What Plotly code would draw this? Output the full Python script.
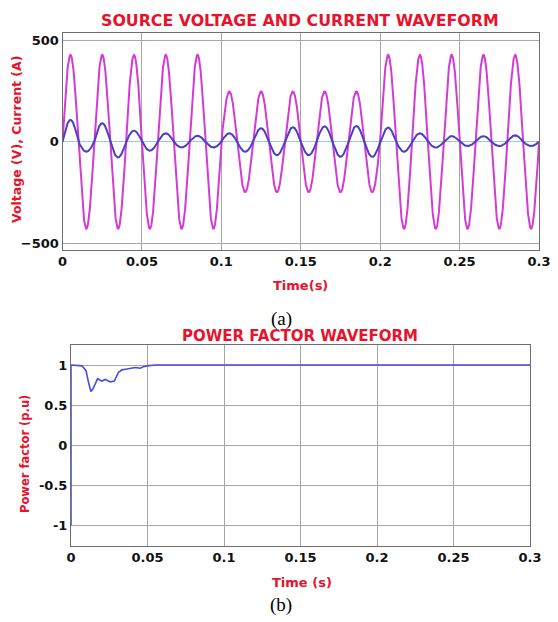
import numpy as np
import plotly.graph_objects as go

# ---------------- data ----------------
FREQ_HZ = 50.0
cycle_start = [0.00, 0.02, 0.04, 0.06, 0.08, 0.10, 0.12, 0.14,
               0.16, 0.18, 0.20, 0.22, 0.24, 0.26, 0.28]
volt_peak = [428, 428, 428, 428, 428, 248, 248, 248,
             248, 248, 428, 428, 428, 428, 428]
cur_pos_peak = [108, 92, 55, 42, 30, 42, 67, 72, 76, 78, 70, 42, 28, 28, 32]
cur_neg_peak = [49, 77, 44, 28, 28, 49, 66, 66, 74, 74, 49, 28, 21, 21, 21]

pf_time = [0.0, 0.0, 0.0072, 0.0098, 0.0115, 0.0130, 0.0143, 0.0174, 0.0202,
           0.0224, 0.0257, 0.0283, 0.0311, 0.0333, 0.0365, 0.0420, 0.0453,
           0.0474, 0.0496, 0.0550, 0.1000, 0.1500, 0.2000, 0.2500, 0.3000]
pf_value = [-1.0, 1.0, 0.99, 0.93, 0.78, 0.67, 0.70, 0.83, 0.80,
            0.82, 0.79, 0.80, 0.91, 0.94, 0.95, 0.97, 0.96,
            0.98, 0.99, 1.0, 1.0, 1.0, 1.0, 1.0, 1.0]

x_tick_vals = [0, 0.05, 0.1, 0.15, 0.2, 0.25, 0.3]
x_tick_text = ["0", "0.05", "0.1", "0.15", "0.2", "0.25", "0.3"]
vi_tick_vals = [-500, 0, 500]
pf_tick_vals = [-1, -0.5, 0, 0.5, 1]
pf_tick_text = ["-1", "-0.5", "0", "0.5", "1"]

# ---------------- waveform build ----------------
t = np.linspace(0, 0.3, 6001)
cs = np.array(cycle_start)
k = np.clip(np.searchsorted(cs, t, side="right") - 1, 0, len(cs) - 1)
s = np.sin(2 * np.pi * FREQ_HZ * t)
voltage = np.array(volt_peak)[k] * s
current = np.where(s >= 0, np.array(cur_pos_peak)[k] * s, np.array(cur_neg_peak)[k] * s)

# the page body has an 8px margin, so the figure is drawn at (8, 8)
OFF = 8
W, H = 558 - OFF, 622 - OFF
def px(x): return (x - OFF) / W
def py(y): return 1 - (y - OFF) / H

TICK_FONT = dict(family="DejaVu Sans", size=13, color="#111111", weight="bold")
RED = "#e8122c"
GRID = "#a6a6a6"
BOX = "#6e6e6e"

fig = go.Figure()
fig.add_trace(go.Scatter(x=t, y=voltage, mode="lines",
                         line=dict(color="#d43bd4", width=2), xaxis="x", yaxis="y",
                         showlegend=False, name="Voltage"))
fig.add_trace(go.Scatter(x=t, y=current, mode="lines",
                         line=dict(color="#4a3fc8", width=2), xaxis="x", yaxis="y",
                         showlegend=False, name="Current"))
fig.add_trace(go.Scatter(x=pf_time, y=pf_value, mode="lines",
                         line=dict(color="#4a4ae0", width=1.6), xaxis="x2", yaxis="y2",
                         showlegend=False, name="Power factor"))

common_x = dict(range=[0, 0.3], tickvals=x_tick_vals, ticktext=x_tick_text,
                showgrid=True, gridcolor=GRID, gridwidth=1, zeroline=False,
                showline=True, linecolor=BOX, linewidth=1, mirror=True,
                ticks="", tickfont=TICK_FONT, automargin=False)

fig.update_layout(
    width=W, height=H,
    margin=dict(l=0, r=0, t=0, b=0, pad=0),
    paper_bgcolor="white", plot_bgcolor="white",
    xaxis=dict(domain=[px(62.5), px(539)], anchor="y", **common_x),
    yaxis=dict(domain=[py(249.5), py(32.5)], anchor="x", range=[-530, 538],
               tickvals=vi_tick_vals, showgrid=True, gridcolor=GRID,
               zeroline=True, zerolinecolor="#9cc4ec", zerolinewidth=1,
               showline=True, linecolor=BOX, linewidth=1, mirror=True,
               ticks="", tickfont=TICK_FONT, automargin=False),
    xaxis2=dict(domain=[px(71), px(530)], anchor="y2", **common_x),
    yaxis2=dict(domain=[py(545.5), py(345)], anchor="x2", range=[-1.25, 1.25],
                tickvals=pf_tick_vals, ticktext=pf_tick_text, showgrid=True,
                gridcolor=GRID, zeroline=False, layer="below traces",
                showline=True, linecolor=BOX, linewidth=1, mirror=True,
                ticks="", tickfont=TICK_FONT, automargin=False),
)

def ann(text, x, y, size, color, family="DejaVu Sans", weight="bold", angle=0):
    fig.add_annotation(text=text, x=px(x), y=py(y), xref="paper", yref="paper",
                       showarrow=False, xanchor="center", yanchor="middle",
                       textangle=angle,
                       font=dict(family=family, size=size, color=color, weight=weight))

ann("SOURCE VOLTAGE AND CURRENT WAVEFORM", 300, 20.5, 15.8, RED)
ann("Time(s)", 300.7, 285, 13, RED)
ann("Voltage (V), Current (A)", 16, 140, 12.5, RED, angle=-90)
ann("(a)", 281, 319, 19, "black", family="Liberation Serif", weight="normal")

ann("POWER FACTOR WAVEFORM", 300, 335.5, 15, RED)
ann("Time (s)", 302, 582, 13, RED)
ann("Power factor (p.u)", 25, 454, 11.5, RED, angle=-90)
ann("(b)", 281, 605, 19, "black", family="Liberation Serif", weight="normal")

fig.write_html("out.html")
